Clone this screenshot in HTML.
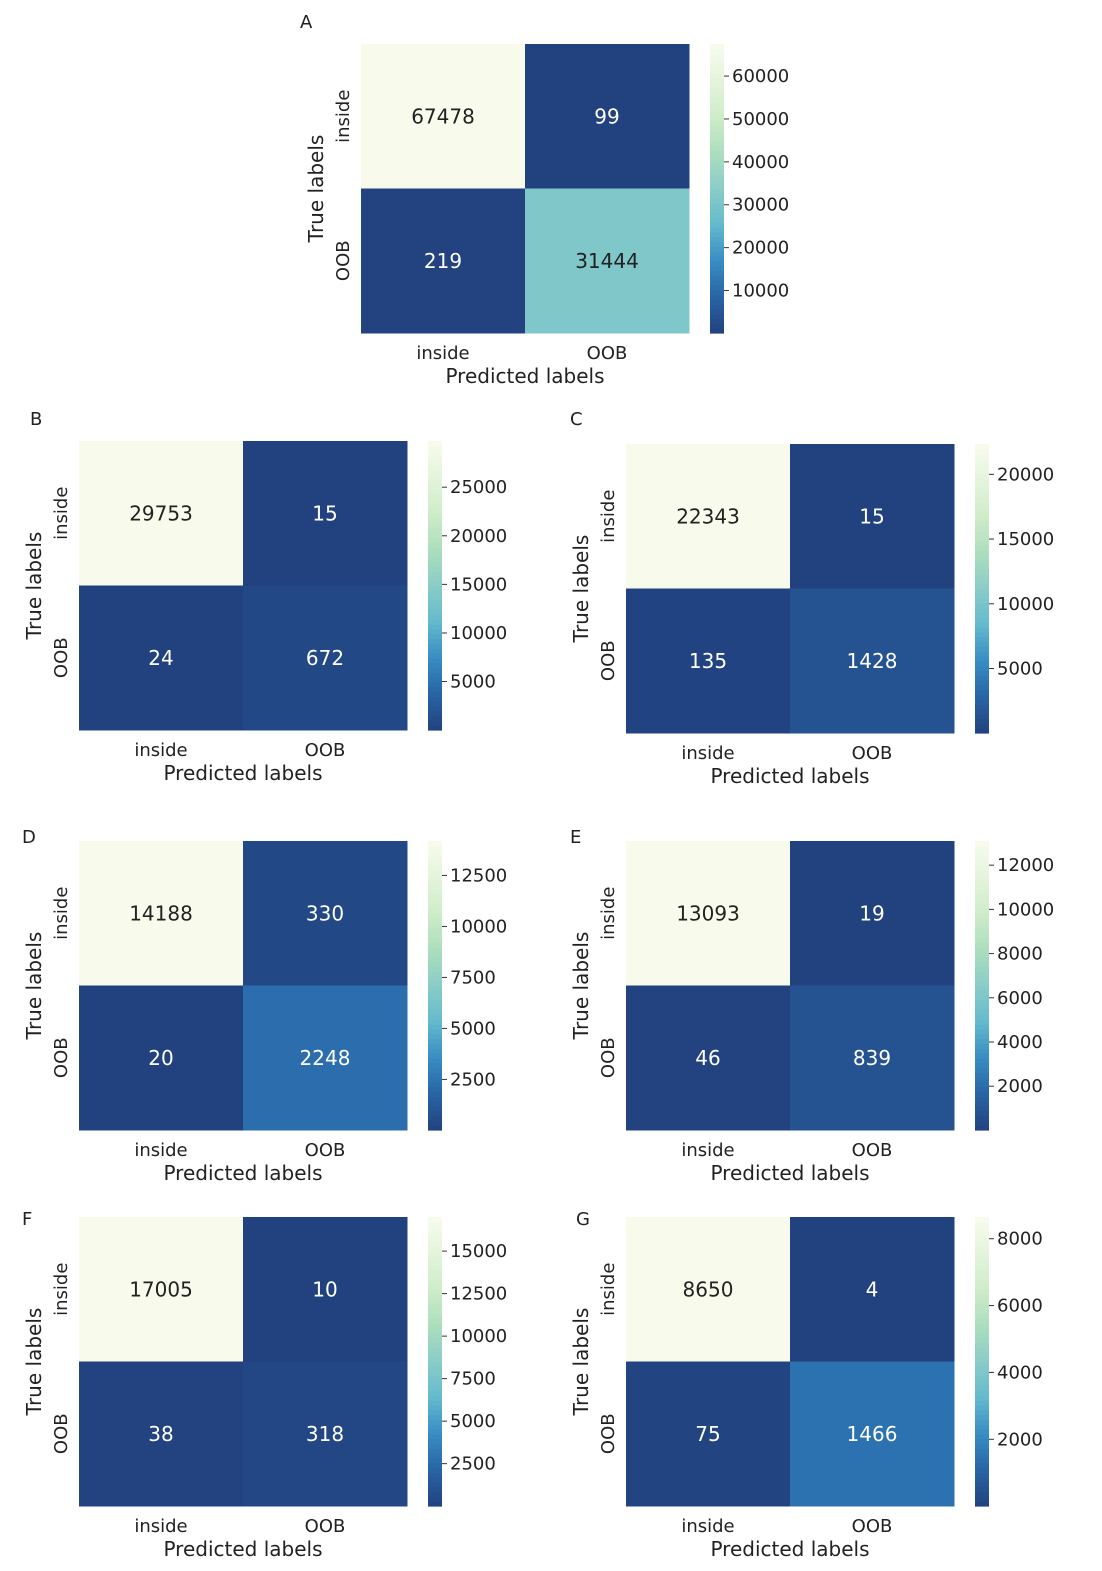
<!DOCTYPE html>
<html><head><meta charset="utf-8">
<style>
body{margin:0;background:#fff;width:1102px;height:1566px;overflow:hidden}
svg text{font-family:"DejaVu Sans","Liberation Sans",sans-serif}
</style></head>
<body>
<svg id="fig" width="1102" height="1566" xmlns="http://www.w3.org/2000/svg"></svg>
<script>
const panelLetters = ["A","B","C","D","E","F","G"];
const valuesA = [67478, 99, 219, 31444];
const valuesB = [29753, 15, 24, 672];
const valuesC = [22343, 15, 135, 1428];
const valuesD = [14188, 330, 20, 2248];
const valuesE = [13093, 19, 46, 839];
const valuesF = [17005, 10, 38, 318];
const valuesG = [8650, 4, 75, 1466];
const ticksA = [10000,20000,30000,40000,50000,60000];
const ticksB = [5000,10000,15000,20000,25000];
const ticksC = [5000,10000,15000,20000];
const ticksD = [2500,5000,7500,10000,12500];
const ticksE = [2000,4000,6000,8000,10000,12000];
const ticksF = [2500,5000,7500,10000,12500,15000];
const ticksG = [2000,4000,6000,8000];
const classLabels = ["inside","OOB"];

const allValues=[valuesA,valuesB,valuesC,valuesD,valuesE,valuesF,valuesG];
const allTicks=[ticksA,ticksB,ticksC,ticksD,ticksE,ticksF,ticksG];
const layout=[[361,44,300,20],[79,441,30,417],[626,444,570,417],[79,841,22,835],[626,841,570,835],[79,1217,22,1217],[626,1217,576,1217]];
const stops=[[0,[34,66,127]],[0.125,[40,100,165]],[0.25,[55,140,195]],[0.375,[100,185,205]],[0.5,[138,204,200]],[0.625,[172,222,190]],[0.75,[206,236,200]],[0.875,[228,244,220]],[1,[248,251,236]]];
function cmap(t){t=Math.max(0,Math.min(1,t));for(let i=1;i<stops.length;i++){if(t<=stops[i][0]){const a=stops[i-1],b=stops[i];const f=(t-a[0])/(b[0]-a[0]);const c=a[1].map((v,k)=>Math.round(v+(b[1][k]-v)*f));return {s:`rgb(${c})`,c};}}return {s:'rgb(248,251,236)',c:[248,251,236]};}
const NS="http://www.w3.org/2000/svg";const svg=document.getElementById('fig');
function mk(tag,attrs,parent,txt){const e=document.createElementNS(NS,tag);for(const k in attrs)e.setAttribute(k,attrs[k]);if(txt!==undefined)e.textContent=txt;(parent||svg).appendChild(e);return e;}
const W=328,H=289;
allValues.forEach((vals,p)=>{
  const [x0,y0,lx,ly]=layout[p];
  const g=mk('g',{});
  
  
  const L=mk('text',{x:lx,y:ly+8,'font-size':18,fill:'#222'},g,panelLetters[p]);
  
  const mn=Math.min(...vals),mx=Math.max(...vals);
  const cw=W/2,ch=H/2;
  vals.forEach((v,i)=>{
    const r=Math.floor(i/2),c=i%2;const col=cmap((v-mn)/(mx-mn));
    const rc=mk('rect',{x:x0+c*cw,y:y0+r*ch,width:cw+0.5,height:ch+0.5,fill:col.s},g);
    
    const lum=(0.2126*col.c[0]+0.7152*col.c[1]+0.0722*col.c[2])/255;
    const t=mk('text',{x:x0+c*cw+cw/2,y:y0+r*ch+ch/2+7,'font-size':20,'text-anchor':'middle',fill:lum<0.45?'#fff':'#222'},g,String(v));
    
  });
  classLabels.forEach((lab,i)=>{
    const yt=mk('text',{transform:`translate(${x0-12},${y0+ch*i+ch/2}) rotate(-90)`,'font-size':18,'text-anchor':'middle',fill:'#222'},g,lab);
    
    const xt=mk('text',{x:x0+cw*i+cw/2,y:y0+H+26,'font-size':18,'text-anchor':'middle',fill:'#222'},g,lab);
    
  });
  const yl=mk('text',{transform:`translate(${x0-38},${y0+H/2}) rotate(-90)`,'font-size':20,'text-anchor':'middle',fill:'#222'},g,'True labels');
  
  const xl=mk('text',{x:x0+W/2,y:y0+H+50,'font-size':20,'text-anchor':'middle',fill:'#222'},g,'Predicted labels');
  
  const bx=x0+W+21,bw=14,N=60;
  const cb=mk('g',{},g);
  for(let k=0;k<N;k++){mk('rect',{x:bx,y:y0+H-(k+1)*H/N,width:bw,height:H/N+0.6,fill:cmap((k+0.5)/N).s},cb);}
  allTicks[p].forEach(tv=>{
    const ty=y0+H-(tv-mn)/(mx-mn)*H;
    mk('line',{x1:bx+bw,x2:bx+bw+5,y1:ty,y2:ty,stroke:'#333','stroke-width':1},cb);
    const tt=mk('text',{x:bx+bw+8,y:ty+6,'font-size':18,fill:'#222'},cb,String(tv));
    
  });
});
</script>
</body></html>
